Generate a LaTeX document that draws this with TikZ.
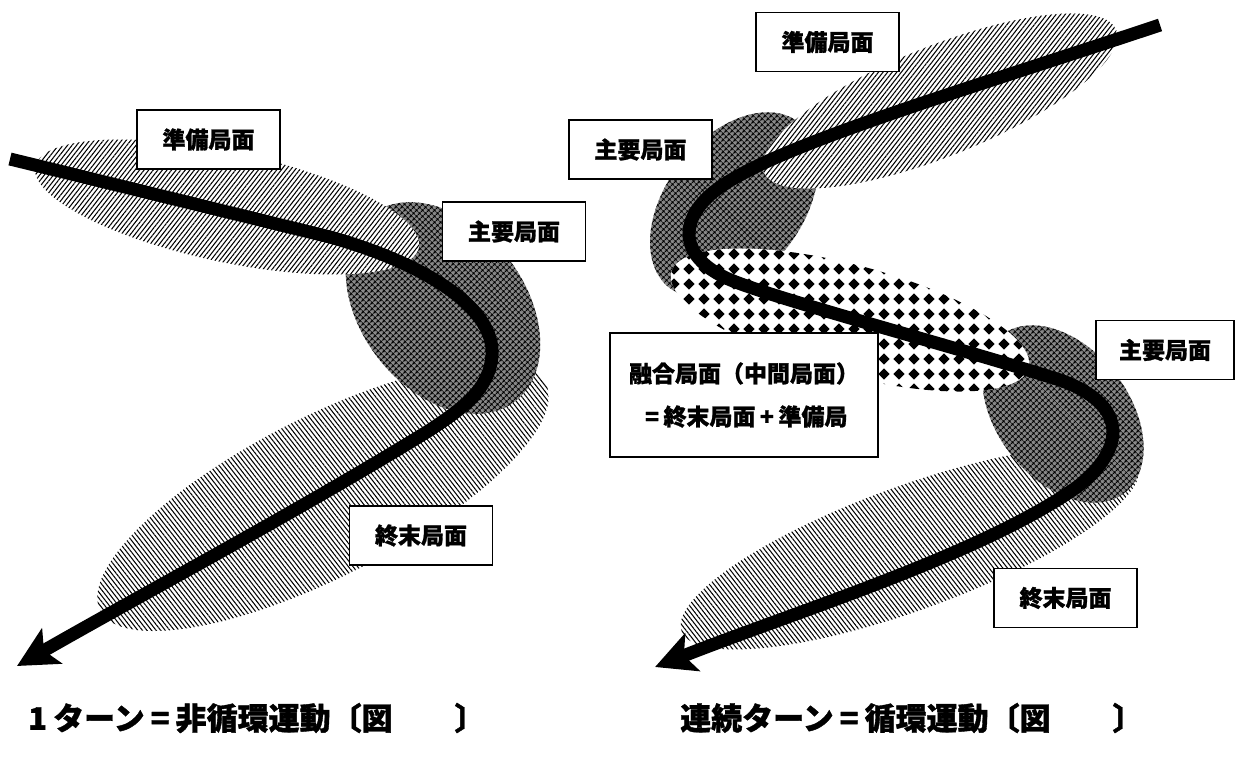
\documentclass[tikz,border=0pt]{standalone}
\usepackage{fontspec}
\newfontfamily\cjk{Noto Sans CJK JP}[BoldFeatures={FakeBold=1.2}]
\usetikzlibrary{patterns,patterns.meta,arrows.meta}
\pgfdeclarepatternformonly{diamondgrid}{\pgfpoint{0pt}{0pt}}{\pgfpoint{14.5pt}{14.5pt}}{\pgfpoint{14.5pt}{14.5pt}}{%
 \pgfpathmoveto{\pgfpoint{7.25pt}{1.5pt}}%
 \pgfpathlineto{\pgfpoint{13pt}{7.25pt}}%
 \pgfpathlineto{\pgfpoint{7.25pt}{13pt}}%
 \pgfpathlineto{\pgfpoint{1.5pt}{7.25pt}}%
 \pgfpathclose\pgfusepath{fill}}
% #1 style, #2 cx, #3 cy, #4 a, #5 b, #6 visual angle
\newcommand\ellfill[6]{\path[#1] plot[domain=0:360,samples=145,variable=\t]
 ({#2+#4*cos(\t)*cos(#6)+#5*sin(\t)*sin(#6)},{#3-#4*cos(\t)*sin(#6)+#5*sin(\t)*cos(#6)}) -- cycle;}
\begin{document}
\begin{tikzpicture}[x=1pt,y=-1pt,
 lbl/.style={draw=black, line width=1.6pt, fill=white, minimum width=143pt, minimum height=59pt, inner sep=0pt, font=\cjk\bfseries\fontsize{23}{27}\selectfont},
 captxt/.style={anchor=west, inner sep=0pt, font=\cjk\bfseries\fontsize{31}{35}\selectfont},
 track/.style={line width=13pt, -{Stealth[length=40pt,width=40pt,inset=9pt]}},
 neh/.style={preaction={fill=white}, pattern={Lines[angle=52,distance=3.6pt,line width=1.05pt]}},
 nwh/.style={preaction={fill=white}, pattern={Lines[angle=-52,distance=3.6pt,line width=1.05pt]}},
 dark/.style={fill=black!45, postaction={pattern={Hatch[angle=45,distance=4pt,line width=1.2pt]}}},
 dia/.style={preaction={fill=white}, pattern=diamondgrid}]
\useasboundingbox (0,0) rectangle (1236,758);
\fill[white] (0,0) rectangle (1236,758);
% ---------- left panel ----------
\ellfill{nwh}{323}{497}{250}{80}{27}
\ellfill{dark}{443}{308}{118}{82}{-52}
\ellfill{neh}{227}{207}{196}{55}{-12}
\coordinate (ls) at (10,159);
\coordinate (le) at (17,666);
\draw[track] (ls) -- (330,237) .. controls (430,265) and (495,310) .. (492,355)
  .. controls (490,390) and (460,410) .. (430,430)
  .. controls (300,510) and (150,590) .. (le);
\node[lbl] (lprep) at (208.5,139.5) {準備局面};
\node[lbl] (lmain) at (514,231.5) {主要局面};
\node[lbl] (lend) at (421,535.5) {終末局面};
% ---------- right panel ----------
\ellfill{nwh}{910}{548}{243}{62}{20}
\ellfill{dark}{1063}{414}{100}{66}{-52}
\ellfill{dark}{734}{205}{105}{68}{52}
\ellfill{dia}{850}{320}{185}{55}{-15}
\ellfill{neh}{940}{101}{190}{55}{22}
\coordinate (rs) at (1160,25);
\coordinate (re) at (655,667);
\draw[track] (rs) .. controls (950,95) and (760,150) .. (710,195)
  .. controls (680,222) and (680,255) .. (724,277)
  .. controls (760,295) and (950,345) .. (1060,380)
  .. controls (1130,405) and (1125,450) .. (1077,487)
  .. controls (980,555) and (800,610) .. (re);
\node[lbl] (rprep) at (827.5,42) {準備局面};
\node[lbl] (rmain1) at (640.5,149.5) {主要局面};
\node[lbl, minimum width=138pt] (rmain2) at (1165,350) {主要局面};
\node[lbl] (rend) at (1065.5,598) {終末局面};
\node[lbl, minimum width=268pt, minimum height=124pt, align=center,
  font=\cjk\bfseries\fontsize{23}{43}\selectfont] (fuse) at (744,395)
  {融合局面（中間局面）\\\makebox[1em]{=}終末局面\makebox[1em]{+}準備局};
% ---------- captions ----------
\node[captxt] (capl) at (22,718) {\makebox[1em]{1}ターン\makebox[1em]{=}非循環運動〔図　　〕};
\node[captxt] (capr) at (680,718) {連続ターン\makebox[1em]{=}循環運動〔図　　〕};
\end{tikzpicture}
\end{document}
